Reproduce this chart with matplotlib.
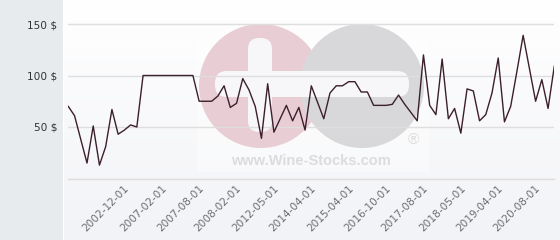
import numpy as np
import matplotlib
matplotlib.use("Agg")
import matplotlib.pyplot as plt
from matplotlib.patches import Circle, FancyBboxPatch, Rectangle
from matplotlib.transforms import ScaledTranslation

# price per bottle, one point per listed date (categorical axis)
prices = [70, 61, 38, 15, 51, 13, 31, 67, 43, 47, 52, 50,
          100, 100, 100, 100, 100, 100, 100, 100, 100,
          75, 75, 75, 80, 90, 69, 73, 97, 86, 70, 39, 92, 45, 58, 71, 56, 69, 47,
          90, 74, 58, 83, 90, 90, 94, 94, 84, 84, 71, 71, 71, 72, 81, 72, 64, 56,
          120, 71, 62, 116, 58, 68, 44, 87, 85, 56, 62, 83, 117, 55, 70, 104, 139,
          107, 75, 96, 68, 109]
tick_labels = ['2002-12-01', '2007-02-01', '2007-08-01', '2008-02-01', '2012-05-01',
               '2014-04-01', '2015-04-01', '2016-10-01', '2017-08-01', '2018-05-01',
               '2019-04-01', '2020-08-01']
first_tick = 10
tick_step = 6
y_ticks = [0, 50, 100, 150]
y_labels = ['', '50 $', '100 $', '150 $']

W, H = 560, 240
fig = plt.figure(figsize=(W / 100, H / 100), dpi=100)

# background: grey strip on the left, light gradient on the plot side
bg = fig.add_axes([0, 0, 1, 1])
bg.axis('off')
bg.add_patch(Rectangle((0, 0), 63, H, color='#e8ebee', lw=0))
grad = np.linspace(0, 1, 100).reshape(-1, 1)
cmap = matplotlib.colors.LinearSegmentedColormap.from_list('g', ['#f2f3f7', '#ffffff'])
bg.imshow(grad, cmap=cmap, extent=(64, W, 0, H), aspect='auto', zorder=0)
bg.set_xlim(0, W)
bg.set_ylim(H, 0)

# watermark
bg.add_patch(Rectangle((197, 14), 232, 158, color='white', alpha=0.4, lw=0, zorder=1))
bg.add_patch(Circle((261, 86), 62, color='#e9cdd5', lw=0, zorder=2))
bg.add_patch(Circle((362, 86), 62, color='#d8d8da', lw=0, zorder=2))
bg.add_patch(FancyBboxPatch((215, 71), 194, 26, boxstyle='round,pad=0,rounding_size=12',
                            color='#f7f7f9', lw=0, zorder=3))
bg.add_patch(FancyBboxPatch((248, 38), 24, 94, boxstyle='round,pad=0,rounding_size=11',
                            color='#f7f7f9', lw=0, zorder=3))
bg.text(311, 161, 'www.Wine-Stocks.com', ha='center', va='center', fontsize=10.5,
        fontweight='bold', color='#dcdcdc', family='Liberation Sans', zorder=3)
bg.text(413, 140, '®', ha='center', va='center', fontsize=11, color='#dcdcdc',
        family='Liberation Sans', zorder=3)

# main plot
left, right = 68.3, 554.3
bottom_px = 178.5
px_per_unit = 1.03
ymax = 170
ax = fig.add_axes([left / W, (H - bottom_px) / H, (right - left) / W, ymax * px_per_unit / H])
ax.patch.set_alpha(0)
x = np.arange(len(prices))
ax.plot(x, prices, color='#3b1f2c', lw=1.0, zorder=3)
ax.set_xlim(0, len(prices) - 1)
ax.set_ylim(0, ymax)
for s in ax.spines.values():
    s.set_visible(False)

ax.set_yticks(y_ticks, y_labels)
ax.yaxis.grid(True, color='#dedede', lw=1)
ax.axhline(0, color='#dedede', lw=1, clip_on=False, zorder=1)
ax.set_axisbelow(True)
ax.tick_params(axis='y', length=0, pad=8, labelsize=7.6, labelcolor='#333333')

ticks = list(range(first_tick, len(prices), tick_step))[:len(tick_labels)]
ax.set_xticks(ticks, tick_labels, rotation=45, ha='right', va='center',
              rotation_mode='anchor')
ax.tick_params(axis='x', length=0, pad=6, labelsize=7.6, labelcolor='#6e6e6e')
shift = ScaledTranslation(-3 / 100, 0, fig.dpi_scale_trans)
for lbl in ax.get_xticklabels():
    lbl.set_transform(lbl.get_transform() + shift)

fig.savefig('out.png', dpi=100)
